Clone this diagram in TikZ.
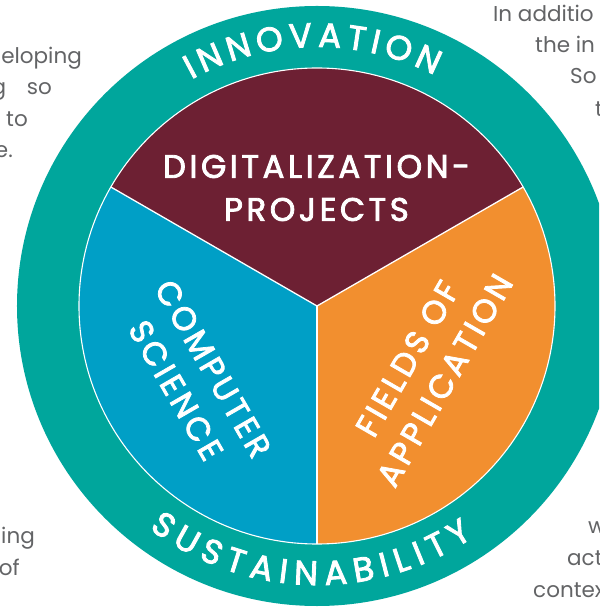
\documentclass[tikz,border=0pt]{standalone}
\usepackage{fontspec}
\setmainfont{Poppins}
\usetikzlibrary{decorations.text}
\definecolor{ringteal}{HTML}{00A69C}
\definecolor{digimaroon}{HTML}{6D2033}
\definecolor{csblue}{HTML}{009FC6}
\definecolor{faorange}{HTML}{F28F2F}
\definecolor{bodygrey}{HTML}{636466}
\newfontfamily\labelfont{Poppins}[FakeBold=2.5, LetterSpace=11]
\newfontfamily\ringfont{Poppins}[FakeBold=2.5]
\newfontfamily\greyfont{Poppins}
\tikzset{
  sectorlabel/.style={text=white, align=center, inner sep=0pt,
    font=\labelfont\fontsize{32.5}{43}\selectfont},
  greytext/.style={text=bodygrey, inner sep=0pt,
    font=\greyfont\fontsize{21.5}{31}\selectfont},
  whiteline/.style={draw=white, line width=1.3pt},
}
\begin{document}
\begin{tikzpicture}[x=1pt,y=1pt]
\useasboundingbox (-317,-303) rectangle (282,306);
\clip (-317,-303) rectangle (282,306);
\coordinate (c) at (0,0);
\coordinate (d1) at (30:238);
\coordinate (d2) at (150:238);
\coordinate (d3) at (270:238);
% outer ring
\fill[ringteal] (c) circle[radius=300];
% sectors
\fill[digimaroon] (c) -- (d1) arc[start angle=30, end angle=150, radius=238] -- cycle;
\fill[csblue] (c) -- (d2) arc[start angle=150, end angle=270, radius=238] -- cycle;
\fill[faorange] (c) -- (d3) arc[start angle=270, end angle=390, radius=238] -- cycle;
\draw[whiteline, line width=1.1pt] (c) circle[radius=238];
\draw[whiteline] (c) -- (d1);
\draw[whiteline] (c) -- (d2);
\draw[whiteline] (c) -- (d3);
% ring texts
\path[decorate, decoration={text along path,
  text={|\ringfont\fontsize{34}{34}\selectfont\color{white}|INNOVATION},
  text align={fit to path}}]
  (119:259) arc[start angle=119, end angle=63, radius=259];
\path[decorate, decoration={text along path,
  text={|\ringfont\fontsize{34}{34}\selectfont\color{white}|SUSTAINABILITY},
  text align={fit to path}}]
  (233:279) arc[start angle=233, end angle=304, radius=279];
% sector labels
\node[sectorlabel] (digi) at (-0.5,118) {DIGITALIZATION-\\PROJECTS};
\node[sectorlabel, rotate=-60] (cs) at (-122.5,-73.5) {COMPUTER\\SCIENCE};
\node[sectorlabel, rotate=60] (fa) at (109,-63.5) {FIELDS OF\\APPLICATION};
% cropped body text
\node[greytext, anchor=base east] (tl1) at (-235,242) {eloping};
\node[greytext, anchor=base east] (tl2) at (-265,211) {g\hspace{15pt} so};
\node[greytext, anchor=base east] (tl3) at (-289,179) {to};
\node[greytext, anchor=base east] (tl4) at (-304,148) {e.};
\node[greytext, anchor=base west] (tr1) at (176,284.3) {In additio};
\node[greytext, anchor=base west] (tr2) at (218,253.3) {the in};
\node[greytext, anchor=base west] (tr3) at (253,222) {So};
\node[greytext, anchor=base west] (tr4) at (278,189.3) {t};
\node[greytext, anchor=base east] (bl1) at (-282,-237) {ing};
\node[greytext, anchor=base east] (bl2) at (-297,-269) {of};
\node[greytext, anchor=base west] (br1) at (271,-227) {w};
\node[greytext, anchor=base west] (br2) at (250,-259) {act};
\node[greytext, anchor=base west] (br3) at (216,-291) {contex};
\end{tikzpicture}
\end{document}
